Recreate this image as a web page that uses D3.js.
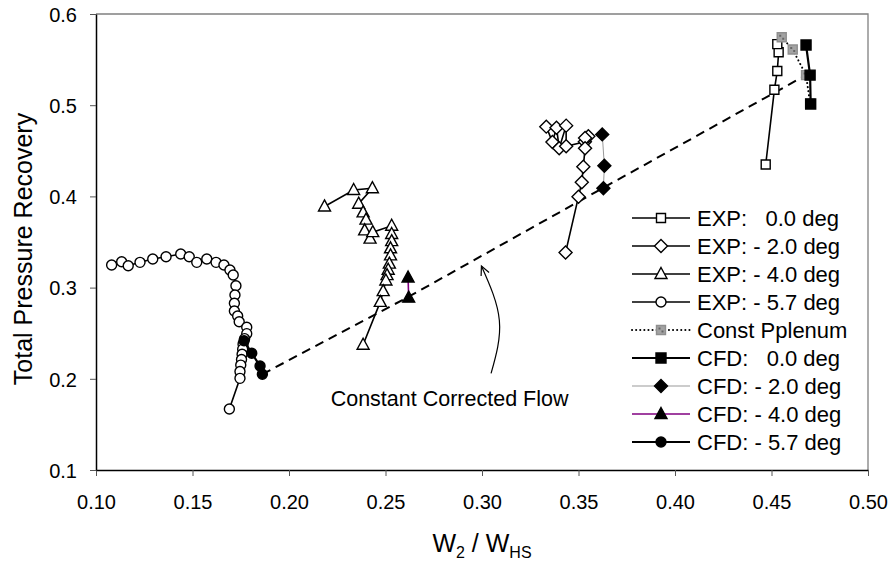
<!DOCTYPE html>
<html>
<head>
<meta charset="utf-8">
<script src="https://cdn.jsdelivr.net/npm/d3@7/dist/d3.min.js"></script>
<style>
  body { margin: 0; background: #fff; }
  text { font-family: Arial, "Liberation Sans", sans-serif; fill: #000; }
</style>
</head>
<body>
<svg id="chart" width="891" height="561"></svg>
<script>
// tick values
var xTicks = [0.10, 0.15, 0.20, 0.25, 0.30, 0.35, 0.40, 0.45, 0.50];
var yTicks = [0.1, 0.2, 0.3, 0.4, 0.5, 0.6];

// series data [W2/WHS, recovery]
var exp00 = [[0.447, 0.435], [0.4515, 0.517], [0.453, 0.5375], [0.4537, 0.558], [0.453, 0.567]];
var exp20 = [[0.3333, 0.4765], [0.3365, 0.4596], [0.3386, 0.4753], [0.3400, 0.4529], [0.3436, 0.4776],
             [0.3436, 0.4549], [0.3533, 0.4600], [0.3551, 0.4660], [0.3534, 0.4640], [0.3534, 0.4527],
             [0.3525, 0.4326], [0.3517, 0.4154], [0.3500, 0.3997], [0.3433, 0.3384]];
var exp40 = [[0.2184, 0.389], [0.2335, 0.407], [0.2432, 0.409], [0.2361, 0.392], [0.2384, 0.3825],
             [0.2399, 0.3745], [0.2392, 0.3628], [0.2420, 0.3537], [0.2434, 0.3608], [0.2532, 0.3678],
             [0.2532, 0.3588], [0.2532, 0.3510], [0.2526, 0.3431], [0.2526, 0.3353], [0.2520, 0.3263],
             [0.2514, 0.3196], [0.2508, 0.3137], [0.2502, 0.3078], [0.2488, 0.2961], [0.2473, 0.2843],
             [0.2384, 0.2373]];
var exp57 = [[0.1081, 0.3248], [0.1133, 0.3284], [0.1167, 0.3240], [0.1228, 0.3277], [0.1294, 0.3314],
             [0.1363, 0.3339], [0.1439, 0.3368], [0.1483, 0.3339], [0.1522, 0.3277], [0.1574, 0.3314],
             [0.1622, 0.3277], [0.1663, 0.3248], [0.1694, 0.3193], [0.1711, 0.3138], [0.1725, 0.3021],
             [0.1720, 0.2919], [0.1717, 0.2828], [0.1717, 0.2743], [0.1734, 0.2689], [0.1742, 0.2626],
             [0.1781, 0.2565], [0.1781, 0.2495], [0.1770, 0.2440], [0.1762, 0.2380], [0.1760, 0.2325],
             [0.1757, 0.2270], [0.1754, 0.2212], [0.1750, 0.2150], [0.1746, 0.2080], [0.1746, 0.2005],
             [0.1691, 0.1669]];
var constP = [[0.4553, 0.5745], [0.4610, 0.5610], [0.4679, 0.5330], [0.4700, 0.5020]];
var cfd00 = [[0.4679, 0.5660], [0.4700, 0.5330], [0.4703, 0.5013]];
var cfd20 = [[0.3623, 0.4680], [0.3634, 0.4337], [0.3629, 0.4089]];
var cfd40 = [[0.2617, 0.3110], [0.2620, 0.2890]];
var cfd57 = [[0.1767, 0.2418], [0.1807, 0.2280], [0.1850, 0.2140], [0.1862, 0.2050]];

// constant corrected flow line and its note
var constFlow = [[0.1862, 0.2050], [0.2620, 0.2900], [0.3629, 0.4095], [0.4679, 0.5330]];
var arrowPts = [[0.3047, 0.2060], [0.3090, 0.2640], [0.2997, 0.3237]];
var noteText = "Constant Corrected Flow";
var notePos = [0.2832, 0.1706];

var svg = d3.select('#chart');
var plotL = 96, plotR = 868, plotT = 14, plotB = 470;

var x = d3.scaleLinear().domain([0.1, 0.5]).range([plotL, plotR]);
var y = d3.scaleLinear().domain([0.1, 0.6]).range([plotB, plotT]);

// marker shapes
function markerPath(type) {
    if (type === 'square') return 'M-4.5,-4.5h9v9h-9Z';
    if (type === 'bigsquare') return 'M-5,-5h10v10h-10Z';
    if (type === 'diamond') return 'M0,-6.5L6.5,0L0,6.5L-6.5,0Z';
    if (type === 'triangle') return 'M0,-6.5L6,4.5L-6,4.5Z';
    if (type === 'circle') return 'M5,0A5,5 0 1,1 -5,0A5,5 0 1,1 5,0Z';
    return '';
}

var series = [
    {name: 'EXP:   0.0 deg', data: exp00, shape: 'square', fill: '#fff', stroke: '#000', line: '#000', lw: 1.6},
    {name: 'EXP: - 2.0 deg', data: exp20, shape: 'diamond', fill: '#fff', stroke: '#000', line: '#000', lw: 1.6},
    {name: 'EXP: - 4.0 deg', data: exp40, shape: 'triangle', fill: '#fff', stroke: '#000', line: '#000', lw: 1.6},
    {name: 'EXP: - 5.7 deg', data: exp57, shape: 'circle', fill: '#fff', stroke: '#000', line: '#000', lw: 1.6},
    {name: 'Const Pplenum', data: constP, shape: 'square', fill: '#a3a3a3', stroke: '#8f8f8f', line: '#000', lw: 2, dash: '0.1,4', pattern: true},
    {name: 'CFD:   0.0 deg', data: cfd00, shape: 'bigsquare', fill: '#000', stroke: '#000', line: '#000', lw: 2.2},
    {name: 'CFD: - 2.0 deg', data: cfd20, shape: 'diamond', fill: '#000', stroke: '#000', line: '#999', lw: 1},
    {name: 'CFD: - 4.0 deg', data: cfd40, shape: 'triangle', fill: '#000', stroke: '#000', line: '#800080', lw: 1.6},
    {name: 'CFD: - 5.7 deg', data: cfd57, shape: 'circle', fill: '#000', stroke: '#000', line: '#000', lw: 2.2}
];

// plot border (top and right in grey)
svg.append('path')
    .attr('d', 'M' + plotL + ',' + plotT + 'H' + plotR + 'V' + plotB)
    .attr('fill', 'none').attr('stroke', '#808080').attr('stroke-width', 1.3);

// axes
var xAxis = d3.axisBottom(x).tickValues(xTicks).tickSize(6).tickSizeOuter(0).tickFormat(d3.format('.2f'));
var yAxis = d3.axisLeft(y).tickValues(yTicks).tickSize(6).tickSizeOuter(0).tickFormat(d3.format('.1f'));

var gx = svg.append('g').attr('transform', 'translate(0,' + plotB + ')').call(xAxis);
var gy = svg.append('g').attr('transform', 'translate(' + plotL + ',0)').call(yAxis);
[gx, gy].forEach(function (g) {
    g.select('.domain').attr('stroke', '#000').attr('stroke-width', 1.5);
    g.selectAll('.tick line').attr('stroke', '#555').attr('stroke-width', 1);
    g.selectAll('.tick text').attr('font-size', 20).attr('font-family', 'Arial, "Liberation Sans", sans-serif').attr('fill', '#000');
});
gx.selectAll('.tick text').attr('y', 25).attr('dy', '0.71em');
gy.selectAll('.tick text').attr('x', -19).attr('dy', '0.36em');

// axis titles
svg.append('text')
    .attr('transform', 'translate(23,249) rotate(-90)')
    .attr('text-anchor', 'middle').attr('dy', '0.36em')
    .attr('font-size', 25)
    .text('Total Pressure Recovery');

var xt = svg.append('text').attr('x', (plotL + plotR) / 2).attr('y', 552)
    .attr('text-anchor', 'middle').attr('font-size', 25);
xt.append('tspan').text('W');
xt.append('tspan').attr('dy', 6).attr('font-size', 16).text('2');
xt.append('tspan').attr('dy', -6).text(' / W');
xt.append('tspan').attr('dy', 6).attr('font-size', 16).text('HS');

// constant corrected flow dashed line
var line = d3.line().x(function (d) { return x(d[0]); }).y(function (d) { return y(d[1]); });
svg.append('path').datum(constFlow)
    .attr('d', line)
    .attr('fill', 'none').attr('stroke', '#000').attr('stroke-width', 2)
    .attr('stroke-dasharray', '9,6');

// series lines and markers
series.forEach(function (s) {
    svg.append('path').datum(s.data)
        .attr('d', line)
        .attr('fill', 'none')
        .attr('stroke', s.line)
        .attr('stroke-width', s.lw)
        .attr('stroke-linecap', s.dash ? 'round' : 'butt')
        .attr('stroke-dasharray', s.dash || null);
    var g = svg.append('g');
    var m = g.selectAll('g').data(s.data).enter().append('g')
        .attr('transform', function (d) { return 'translate(' + x(d[0]) + ',' + y(d[1]) + ')'; });
    m.append('path')
        .attr('d', markerPath(s.shape))
        .attr('fill', s.fill)
        .attr('stroke', s.stroke)
        .attr('stroke-width', 1.4);
    if (s.pattern) {
        m.append('path').attr('d', 'M-2.5,-2.5h2v2h-2ZM0.5,0.5h2v2h-2Z').attr('fill', '#666');
    }
});

// annotation
svg.append('text')
    .attr('x', x(notePos[0])).attr('y', y(notePos[1]))
    .attr('text-anchor', 'middle').attr('font-size', 21.5)
    .text(noteText);

var curved = d3.line().x(function (d) { return x(d[0]); }).y(function (d) { return y(d[1]); }).curve(d3.curveNatural);
var arrow = svg.append('path').datum(arrowPts)
    .attr('d', curved)
    .attr('fill', 'none').attr('stroke', '#000').attr('stroke-width', 1.2);
var node = arrow.node();
var len = node.getTotalLength();
var tip = node.getPointAtLength(len);
var back = node.getPointAtLength(len - 6);
var ang = Math.atan2(tip.y - back.y, tip.x - back.x);
var head = [ang + Math.PI - 0.45, ang + Math.PI + 0.45].map(function (a) {
    return [tip.x + 10 * Math.cos(a), tip.y + 10 * Math.sin(a)];
});
svg.append('path')
    .attr('d', 'M' + head[0] + 'L' + tip.x + ',' + tip.y + 'L' + head[1])
    .attr('fill', 'none').attr('stroke', '#000').attr('stroke-width', 1.2);

// legend
var lg = svg.append('g');
var rows = lg.selectAll('g').data(series).enter().append('g')
    .attr('transform', function (d, i) { return 'translate(0,' + (218 + i * 28) + ')'; });
rows.append('line')
    .attr('x1', 632).attr('x2', 690)
    .attr('stroke', function (d) { return d.line; })
    .attr('stroke-width', function (d) { return d.lw; })
    .attr('stroke-linecap', function (d) { return d.dash ? 'round' : 'butt'; })
    .attr('stroke-dasharray', function (d) { return d.dash || null; });
rows.append('path')
    .attr('transform', 'translate(661,0)')
    .attr('d', function (d) { return markerPath(d.shape); })
    .attr('fill', function (d) { return d.fill; })
    .attr('stroke', function (d) { return d.stroke; })
    .attr('stroke-width', 1.4);
rows.filter(function (d) { return d.pattern; }).append('path')
    .attr('transform', 'translate(661,0)')
    .attr('d', 'M-2.5,-2.5h2v2h-2ZM0.5,0.5h2v2h-2Z').attr('fill', '#666');
rows.append('text')
    .attr('x', 697).attr('dy', '0.36em')
    .attr('font-size', 22)
    .attr('xml:space', 'preserve')
    .style('white-space', 'pre')
    .text(function (d) { return d.name; });
</script>
</body>
</html>
